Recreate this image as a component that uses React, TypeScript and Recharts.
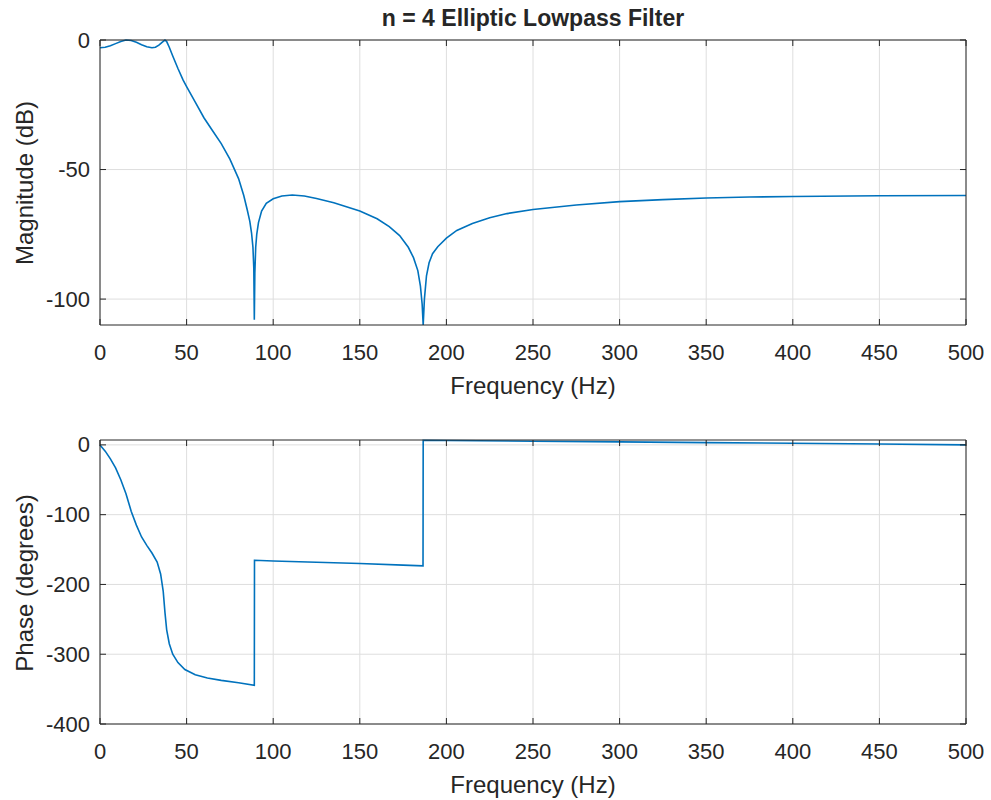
import React from 'react';
import { LineChart, Line, XAxis, YAxis, CartesianGrid } from 'recharts';

// ---- data ----

const FREQ_TICKS = [0, 50, 100, 150, 200, 250, 300, 350, 400, 450, 500];
const MAG_TICKS = [-100, -50, 0];
const PHASE_TICKS = [-400, -300, -200, -100, 0];

const magFreq = [
  0, 3, 6, 9, 12, 15, 18, 21, 24, 27, 30, 32, 34, 36, 37.5, 38.5, 40, 42, 45, 48,
  50, 55, 60, 65, 70, 75, 80, 83, 85, 86.5, 87.5, 88.3, 88.8, 89.1, 89.4, 89.9, 90.5, 91.5, 93.3, 96,
  100, 105, 111, 118, 125, 135, 150, 160, 167, 173, 178, 181, 183.5, 185, 186, 186.6, 187.3, 188.5, 190, 192,
  195, 200, 206, 215, 225, 235, 250, 275, 300, 325, 350, 375, 400, 450, 500,
];
const magDb = [
  -3.0, -2.8, -2.2, -1.4, -0.6, 0, -0.2, -0.9, -1.8, -2.6, -3.0, -2.8, -2.0, -0.8, 0, -0.6, -2.8, -6.2, -11, -15.5,
  -18, -24, -30, -35, -40, -46, -53.5, -60, -65.5, -70, -74.5, -80, -88, -108, -90, -80, -75, -70.5, -66, -63,
  -61.3, -60.2, -59.8, -60.2, -61.2, -62.8, -66, -69, -72, -75.5, -80, -84, -89, -95, -102, -110, -100, -91, -86, -82.5,
  -79.8, -76.5, -73.5, -70.8, -68.6, -67, -65.4, -63.7, -62.4, -61.6, -61, -60.6, -60.4, -60.1, -60,
];

const phaseFreq = [
  0, 3, 6, 9, 12, 15, 18, 21, 24, 27, 30, 33, 35, 36.5, 37.5, 38.5, 40, 42, 45, 49,
  55, 62, 70, 80, 89.1, 89.2, 100, 125, 150, 175, 186.5, 186.6, 200, 250, 300, 350, 400, 450, 500,
];
const phaseDeg = [
  0, -9, -20, -33, -50, -70, -95, -115, -132, -144, -155, -168, -185, -210, -240, -265, -285, -300, -312, -322,
  -329.5, -334, -337.5, -341, -344.5, -165.3, -166.5, -168.3, -170, -172.3, -173.4, 6.6, 6.3, 5.3, 4.3, 3.3, 2.3, 1.2, 0,
];

const magData = magFreq.map((f, i) => ({ f, mag: magDb[i] }));
const phaseData = phaseFreq.map((f, i) => ({ f, phase: phaseDeg[i] }));

// ---- styling ----

const AX = '#262626';
const GRID = '#dedede';
const BLUE = '#0072BD';
const FONT = '"Liberation Sans", Arial, sans-serif';
const TICK_FS = 22;
const LABEL_FS = 24;

// inward ticks, MATLAB style
const BottomTick = ({ x, y, payload }: any) => (
  <g>
    <line x1={x} y1={y} x2={x} y2={y - 6} stroke={AX} />
    <text x={x} y={y + 27} textAnchor="middle" dominantBaseline="central" fill={AX} fontSize={TICK_FS} fontFamily={FONT}>
      {payload.value}
    </text>
  </g>
);
const TopTick = ({ x, y }: any) => <line x1={x} y1={y} x2={x} y2={y + 6} stroke={AX} />;
const LeftTick = ({ x, y, payload }: any) => (
  <g>
    <line x1={x} y1={y} x2={x + 6} y2={y} stroke={AX} />
    <text x={x - 10} y={y} textAnchor="end" dominantBaseline="central" fill={AX} fontSize={TICK_FS} fontFamily={FONT}>
      {payload.value}
    </text>
  </g>
);
const RightTick = ({ x, y }: any) => <line x1={x} y1={y} x2={x - 6} y2={y} stroke={AX} />;

const Text = ({ x, y, children, rotate = false, bold = false, size = LABEL_FS }: any) => (
  <div
    style={{
      position: 'absolute',
      left: x,
      top: y,
      transform: `translate(-50%, -50%)${rotate ? ' rotate(-90deg)' : ''}`,
      whiteSpace: 'nowrap',
      fontFamily: FONT,
      fontSize: size,
      fontWeight: bold ? 'bold' : 'normal',
      color: AX,
    }}
  >
    {children}
  </div>
);

const Panel = ({ data, dataKey, domain, yTicks, marginBottom }: any) => (
  <LineChart width={991} height={400} data={data} margin={{ top: 39, right: 24, bottom: marginBottom, left: 40 }}>
    <CartesianGrid xAxisId="x" yAxisId="y" stroke={GRID} horizontalValues={yTicks} verticalValues={FREQ_TICKS} />
    <XAxis
      xAxisId="x"
      dataKey="f"
      type="number"
      domain={[0, 500]}
      ticks={FREQ_TICKS}
      interval={0}
      height={30}
      tickSize={0}
      tickMargin={0}
      tickLine={false}
      axisLine={{ stroke: AX }}
      tick={<BottomTick />}
    />
    <XAxis
      xAxisId="xt"
      orientation="top"
      dataKey="f"
      type="number"
      domain={[0, 500]}
      ticks={FREQ_TICKS}
      interval={0}
      height={1}
      tickSize={0}
      tickMargin={0}
      tickLine={false}
      allowDataOverflow
      axisLine={{ stroke: AX }}
      tick={<TopTick />}
    />
    <YAxis
      yAxisId="y"
      type="number"
      domain={domain}
      ticks={yTicks}
      interval={0}
      width={60}
      tickSize={0}
      tickMargin={0}
      tickLine={false}
      axisLine={{ stroke: AX }}
      tick={<LeftTick />}
    />
    <YAxis
      yAxisId="yr"
      orientation="right"
      type="number"
      domain={domain}
      ticks={yTicks}
      interval={0}
      width={1}
      tickSize={0}
      tickMargin={0}
      tickLine={false}
      allowDataOverflow
      axisLine={{ stroke: AX }}
      tick={<RightTick />}
    />
    <Line
      xAxisId="x"
      yAxisId="y"
      type="linear"
      dataKey={dataKey}
      stroke={BLUE}
      strokeWidth={1.6}
      dot={false}
      activeDot={false}
      isAnimationActive={false}
    />
  </LineChart>
);

export default function App() {
  return (
    <div style={{ position: 'absolute', left: 0, top: 0, width: 991, height: 800, background: '#fff', overflow: 'hidden' }}>
      <div style={{ position: 'absolute', left: 0, top: 0 }}>
        <Panel data={magData} dataKey="mag" domain={[-110, 0]} yTicks={MAG_TICKS} marginBottom={45} />
      </div>
      <div style={{ position: 'absolute', left: 0, top: 400 }}>
        <Panel data={phaseData} dataKey="phase" domain={[-400, 7]} yTicks={PHASE_TICKS} marginBottom={46} />
      </div>
      <Text x={533} y={18} bold size={23}>n = 4 Elliptic Lowpass Filter</Text>
      <Text x={533} y={386}>Frequency (Hz)</Text>
      <Text x={533} y={785}>Frequency (Hz)</Text>
      <Text x={25} y={183} rotate>Magnitude (dB)</Text>
      <Text x={25} y={583} rotate>Phase (degrees)</Text>
    </div>
  );
}
